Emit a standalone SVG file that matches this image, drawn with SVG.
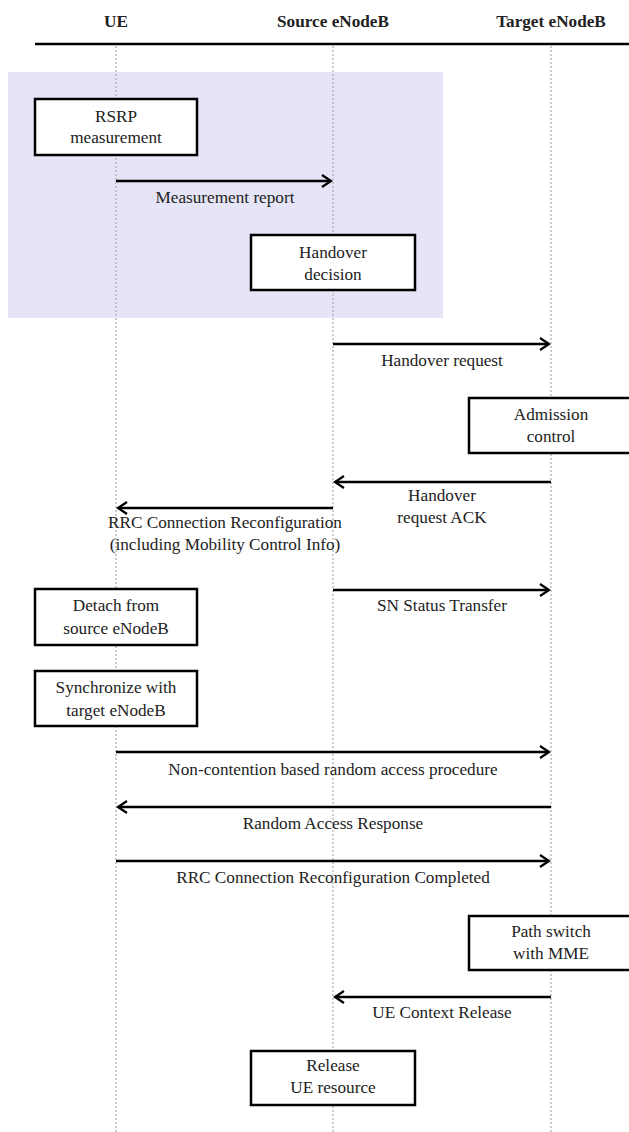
<svg xmlns="http://www.w3.org/2000/svg" width="629" height="1132" viewBox="0 0 629 1132">
<style>
text{font-family:'Liberation Serif','DejaVu Serif',serif;font-size:17.2px;fill:#222;text-anchor:middle}
.hd{font-weight:bold;font-size:17.2px}
.box{fill:#fff;stroke:#000;stroke-width:2.5}
.life{stroke:#aaa;stroke-width:1.2;stroke-dasharray:2 2}
.msg{stroke:#000;stroke-width:2.5;fill:none}
</style>
<defs>
<marker id="ah" markerWidth="14" markerHeight="14" refX="11" refY="7" orient="auto" markerUnits="userSpaceOnUse">
<path d="M2,1 L11,7 L2,13" fill="none" stroke="#000" stroke-width="2.2"/>
</marker>
</defs>
<rect x="8" y="72" width="435" height="246" fill="#e5e5f7"/>
<g id="header">
<text class="hd" x="116" y="27">UE</text>
<text class="hd" x="333" y="27">Source eNodeB</text>
<text class="hd" x="551" y="27">Target eNodeB</text>
<line x1="35" y1="44" x2="629" y2="44" stroke="#000" stroke-width="2.5"/>
</g>
<g id="lifelines">
<line class="life" x1="116" y1="46" x2="116" y2="1132"/>
<line class="life" x1="333" y1="46" x2="333" y2="1132"/>
<line class="life" x1="551" y1="46" x2="551" y2="1132"/>
</g>
<g id="rsrp"><rect class="box" x="35" y="99" width="162" height="56"/><text x="116" y="122">RSRP</text><text x="116" y="143">measurement</text></g>
<g id="hodecision"><rect class="box" x="251" y="235" width="164" height="55"/><text x="333" y="258">Handover</text><text x="333" y="280">decision</text></g>
<g id="admission"><rect class="box" x="469" y="398" width="164" height="55"/><text x="551" y="420">Admission</text><text x="551" y="442">control</text></g>
<g id="detach"><rect class="box" x="35" y="589" width="162" height="56"/><text x="116" y="611">Detach from</text><text x="116" y="634">source eNodeB</text></g>
<g id="sync"><rect class="box" x="35" y="671" width="162" height="55"/><text x="116" y="693">Synchronize with</text><text x="116" y="716">target eNodeB</text></g>
<g id="pathswitch"><rect class="box" x="469" y="916" width="164" height="54"/><text x="551" y="937">Path switch</text><text x="551" y="959">with MME</text></g>
<g id="release"><rect class="box" x="251" y="1051" width="164" height="54"/><text x="333" y="1071">Release</text><text x="333" y="1093">UE resource</text></g>
<g id="connectors">
<line class="msg" x1="116" y1="181" x2="331" y2="181" marker-end="url(#ah)"/>
<text x="225" y="203">Measurement report</text>
<line class="msg" x1="333" y1="344" x2="549" y2="344" marker-end="url(#ah)"/>
<text x="442" y="366">Handover request</text>
<line class="msg" x1="551" y1="482" x2="335" y2="482" marker-end="url(#ah)"/>
<text x="442" y="501">Handover</text>
<text x="442" y="523">request ACK</text>
<line class="msg" x1="333" y1="508" x2="118" y2="508" marker-end="url(#ah)"/>
<text x="225" y="528">RRC Connection Reconfiguration</text>
<text x="225" y="550">(including Mobility Control Info)</text>
<line class="msg" x1="333" y1="590" x2="549" y2="590" marker-end="url(#ah)"/>
<text x="442" y="611">SN Status Transfer</text>
<line class="msg" x1="116" y1="752" x2="549" y2="752" marker-end="url(#ah)"/>
<text x="333" y="775">Non-contention based random access procedure</text>
<line class="msg" x1="551" y1="807" x2="118" y2="807" marker-end="url(#ah)"/>
<text x="333" y="829">Random Access Response</text>
<line class="msg" x1="116" y1="861" x2="549" y2="861" marker-end="url(#ah)"/>
<text x="333" y="883">RRC Connection Reconfiguration Completed</text>
<line class="msg" x1="551" y1="997" x2="335" y2="997" marker-end="url(#ah)"/>
<text x="442" y="1018">UE Context Release</text>
</g>
</svg>
